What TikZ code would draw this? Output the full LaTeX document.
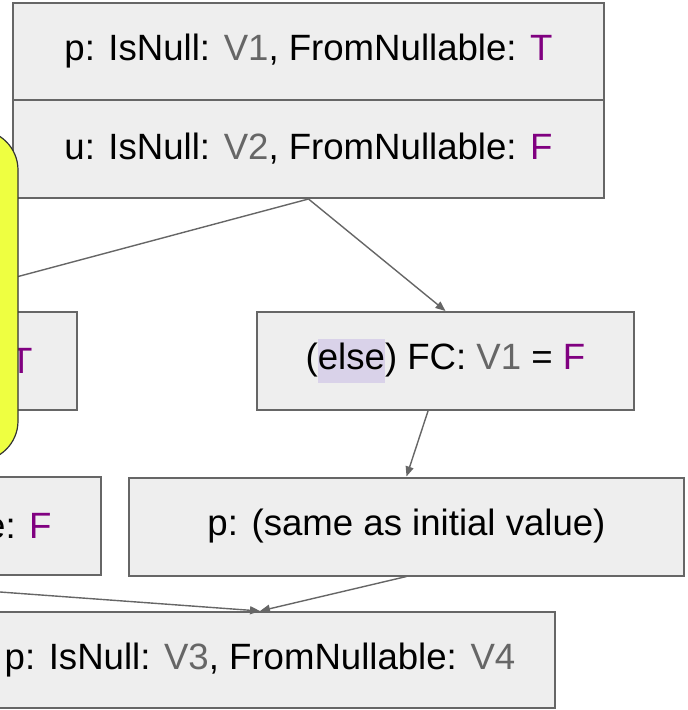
\documentclass[tikz,border=0pt]{standalone}
\usepackage{fontspec}
\setmainfont{Liberation Sans}
\usetikzlibrary{arrows.meta,calc}
\definecolor{boxfill}{HTML}{EEEEEE}
\definecolor{boxline}{HTML}{666666}
\definecolor{valgray}{HTML}{666666}
\definecolor{valpurple}{RGB}{128,0,128}
\definecolor{hlcol}{HTML}{D9D2E9}
\definecolor{notefill}{HTML}{EEFF41}
\newcommand{\gv}[1]{\textcolor{valgray}{#1}}
\newcommand{\pv}[1]{\textcolor{valpurple}{#1}}
\begin{document}
\begin{tikzpicture}[x=0.5pt,y=-0.5pt,
  statebox/.style={draw=boxline,fill=boxfill,line width=1pt,inner sep=0pt,
    font=\fontsize{18.3}{22}\selectfont},
  txt/.style={inner sep=0pt,font=\fontsize{18.3}{22}\selectfont},
  flow/.style={draw=boxline,line width=0.7pt,-{Triangle[length=5pt,width=4pt]}},
  notebox/.style={draw=black!80,fill=notefill,line width=0.6pt,rounded corners=20pt,inner sep=0pt}]
\useasboundingbox (0,0) rectangle (687,710);
\clip (0,0) rectangle (687,710);

% initial state
\node[statebox,minimum width=295.5pt,minimum height=48.5pt] (p0) at (308.5,51.5)
  {p: IsNull: \gv{V1}, FromNullable: \pv{T}};
\node[statebox,minimum width=295.5pt,minimum height=49pt] (u0) at (308.5,149)
  {u: IsNull: \gv{V2}, FromNullable: \pv{F}};

% branches
\node[statebox,minimum width=188pt,minimum height=49pt] (ifbr) at (-111,361) {};
\node[txt,anchor=east] (ifval) at (33,361) {\pv{T}};
\node[statebox,minimum width=188.5pt,minimum height=49pt] (elsebr) at (445.5,361)
  {(\begingroup\setlength{\fboxsep}{0pt}\colorbox{hlcol}{\strut else}\endgroup) FC: \gv{V1} = \pv{F}};

% states after each branch
\node[statebox,minimum width=320pt,minimum height=49pt] (ifst) at (-219,526) {};
\node[txt,anchor=east] (ifstval) at (52,526) {e: \pv{F}};
\node[statebox,minimum width=277.5pt,minimum height=49pt] (elsest) at (406.5,526.5)
  {p: (same as initial value)};

% merged state
\node[statebox,minimum width=295pt,minimum height=48pt] (merge) at (260,660)
  {p: IsNull: \gv{V3}, FromNullable: \gv{V4}};

% connectors
\draw[flow] (u0.south) -- (ifbr.north);
\draw[flow] (u0.south) -- (elsebr.north);
\draw[flow] ($(elsebr.south)+(-17.5,0)$) -- (elsest.north);
\draw[flow] (ifst.south) -- (merge.north);
\draw[flow] (elsest.south) -- (merge.north);

% note on top
\node[notebox,minimum width=159pt,minimum height=165.5pt] (note) at (-141,295.5) {};
\end{tikzpicture}
\end{document}
